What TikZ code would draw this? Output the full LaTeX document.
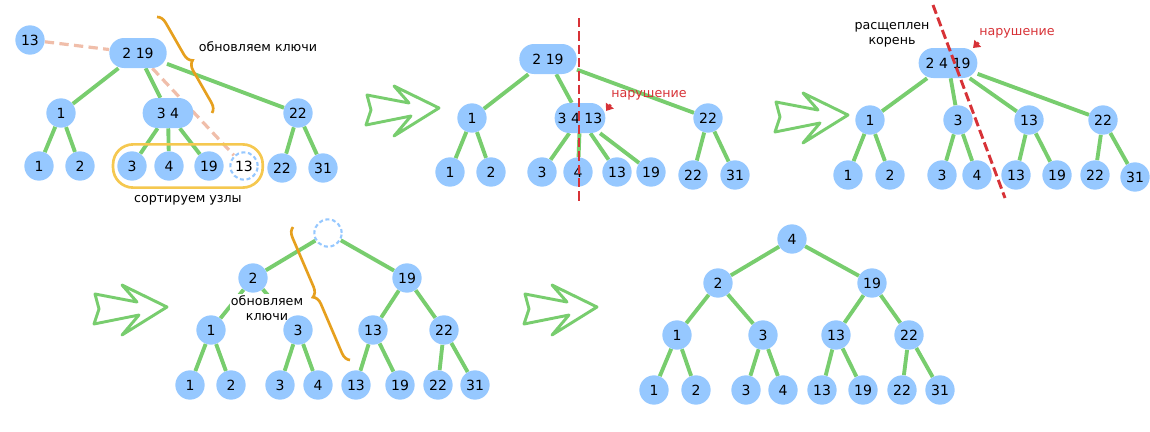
\documentclass[tikz,border=0pt]{standalone}
\usepackage{fontspec}
\setmainfont{DejaVu Sans}
\usetikzlibrary{positioning,fit,backgrounds,decorations.pathreplacing,arrows.meta}

\definecolor{keyblue}{RGB}{150,200,255}
\definecolor{edgegreen}{RGB}{120,205,110}
\definecolor{braceorange}{RGB}{230,160,30}
\definecolor{boxyellow}{RGB}{245,200,80}
\definecolor{warnred}{RGB}{215,50,55}
\definecolor{linkpink}{RGB}{240,190,170}

\tikzset{
	labelfont/.style={font=\fontsize{9.5}{11}\selectfont},
	keyfont/.style={font=\fontsize{10.5}{12}\selectfont},
	knot/.style={circle, fill=keyblue, minimum size=22pt, inner sep=0pt, keyfont},
	hole/.style={circle, draw=keyblue, line width=1.6pt, dash pattern=on 3pt off 2pt, minimum size=20.5pt, inner sep=0pt, keyfont},
	pair/.style={rectangle, rounded corners=11pt, fill=keyblue, minimum height=22.5pt, inner sep=1pt, keyfont},
	edge/.style={draw=edgegreen, line width=2.9pt},
	link/.style={draw=linkpink, line width=2.4pt, dash pattern=on 7pt off 4pt},
	cutline/.style={draw=warnred, line width=2.2pt, dash pattern=on 7pt off 3pt},
	warnarrow/.style={draw=warnred, line width=2pt, -{Triangle[length=5pt,width=7pt]}},
	bracket/.style={draw=braceorange, line width=2pt, decorate, decoration={brace, amplitude=7pt}},
	sortbox/.style={draw=boxyellow, line width=2pt, rounded corners=15pt, inner xsep=3pt, inner ysep=5pt},
	goarrow/.pic={
		\draw[edgegreen, line width=2.2pt, line join=round]
			(-72,-13) -- (-30,-5) -- (-45,-22) -- (0,0) -- (-45,28) -- (-28,8) -- (-73,17) -- (-68,2) -- cycle;
	}
}

\begin{document}
\begin{tikzpicture}[x=0.75pt, y=-0.75pt]
	\useasboundingbox (0,0) rectangle (1150,432);

	% step 1: insert 13, sort the keys
	\node[knot] (a13) at (30,40) {13};
	\node[pair, minimum width=43pt] (ar) at (138,53) {2 19};
	\node[knot] (a1) at (61,113) {1};
	\node[pair, minimum width=38pt] (a34) at (168,113) {3 4};
	\node[knot] (a22) at (298,113) {22};
	\node[knot] (a11) at (39,166) {1};
	\node[knot] (a12) at (80,166) {2};
	\node[knot] (a3) at (132,166) {3};
	\node[knot] (a4) at (169,166) {4};
	\node[knot] (a19) at (209,166) {19};
	\node[hole] (a13n) at (244,166) {13};
	\node[knot] (a22l) at (282,168) {22};
	\node[knot] (a31) at (323,168) {31};
	\node[sortbox, fit=(a3)(a13n)] (abox) {};
	\node[labelfont, below=1pt of abox] {сортируем узлы};
	\node[labelfont] at (258,47) {обновляем ключи};
	\begin{scope}[on background layer]
		\draw[edge] (ar) -- (a1) (ar) -- (a34) (ar) -- (a22);
		\draw[edge] (a1) -- (a11) (a1) -- (a12);
		\draw[edge] (a34) -- (a3) (a34) -- (a4) (a34) -- (a19);
		\draw[edge] (a22) -- (a22l) (a22) -- (a31);
		\draw[link] (a13) -- (ar);
		\draw[link] (ar) -- (a13n);
	\end{scope}
	\draw[bracket] (157,17) -- (212,113);

	% step 2: leaf overflows
	\pic at (439,108) {goarrow};
	\node[pair, minimum width=43pt] (br) at (548,59) {2 19};
	\node[knot] (b1) at (472,118) {1};
	\node[pair, minimum width=38pt] (b34) at (580,118) {3 4 13};
	\node[knot] (b22) at (708,118) {22};
	\node[knot] (b11) at (450,172) {1};
	\node[knot] (b12) at (491,172) {2};
	\node[knot] (b3) at (542,172) {3};
	\node[knot] (b4) at (578,172) {4};
	\node[knot] (b13) at (617,172) {13};
	\node[knot] (b19) at (651,172) {19};
	\node[knot] (b22l) at (693,175) {22};
	\node[knot] (b31) at (735,175) {31};
	\begin{scope}[on background layer]
		\draw[edge] (br) -- (b1) (br) -- (b34) (br) -- (b22);
		\draw[edge] (b1) -- (b11) (b1) -- (b12);
		\draw[edge] (b34) -- (b3) (b34) -- (b4) (b34) -- (b13) (b34) -- (b19);
		\draw[edge] (b22) -- (b22l) (b22) -- (b31);
	\end{scope}
	\coordinate (bcut1) at (579,18);
	\coordinate (bcut2) at (579,202);
	\draw[cutline] (bcut1) -- (bcut2);
	\node[labelfont, text=warnred] (bwarn) at (649,95) {нарушение};
	\coordinate (bhit) at (606,111);
	\draw[warnarrow] ([xshift=3pt]bwarn.south west) -- (bhit);

	% step 3: root split
	\pic at (848,115) {goarrow};
	\node[pair, minimum width=44pt] (cr) at (948,63) {2\,\,4\,\,19};
	\node[knot] (c1) at (870,120) {1};
	\node[knot] (c3) at (958,120) {3};
	\node[knot] (c13) at (1029,120) {13};
	\node[knot] (c22) at (1103,120) {22};
	\node[knot] (c11) at (848,175) {1};
	\node[knot] (c12) at (890,175) {2};
	\node[knot] (c3l) at (942,175) {3};
	\node[knot] (c4) at (977,175) {4};
	\node[knot] (c13l) at (1016,175) {13};
	\node[knot] (c19) at (1057,175) {19};
	\node[knot] (c22l) at (1095,175) {22};
	\node[knot] (c31) at (1135,177) {31};
	\begin{scope}[on background layer]
		\draw[edge] (cr) -- (c1) (cr) -- (c3) (cr) -- (c13) (cr) -- (c22);
		\draw[edge] (c1) -- (c11) (c1) -- (c12);
		\draw[edge] (c3) -- (c3l) (c3) -- (c4);
		\draw[edge] (c13) -- (c13l) (c13) -- (c19);
		\draw[edge] (c22) -- (c22l) (c22) -- (c31);
	\end{scope}
	\node[labelfont, align=center] at (892,35) {расщеплен\\корень};
	\coordinate (ccut1) at (933,5);
	\coordinate (ccut2) at (1005,198);
	\draw[cutline] (ccut1) -- (ccut2);
	\node[labelfont, text=warnred] (cwarn) at (1017,33) {нарушение};
	\coordinate (chit) at (973,48);
	\draw[warnarrow] ([xshift=3pt]cwarn.south west) -- (chit);

	% step 4: new root, update keys
	\pic at (167,307) {goarrow};
	\node[labelfont, align=center, fill=white, inner sep=1pt] at (267,308) {обновляем\\ключи};
	\node[hole] (d0) at (328,233) {};
	\node[knot] (d2) at (253,278) {2};
	\node[knot] (d19) at (407,278) {19};
	\node[knot] (d1) at (211,330) {1};
	\node[knot] (d3) at (298,330) {3};
	\node[knot] (d13) at (373,330) {13};
	\node[knot] (d22) at (444,330) {22};
	\node[knot] (d11) at (190,385) {1};
	\node[knot] (d12) at (231,385) {2};
	\node[knot] (d3l) at (280,385) {3};
	\node[knot] (d4) at (318,385) {4};
	\node[knot] (d13l) at (356,385) {13};
	\node[knot] (d19l) at (400,385) {19};
	\node[knot] (d22l) at (438,385) {22};
	\node[knot] (d31) at (475,385) {31};
	\begin{scope}[on background layer]
		\draw[edge] (d0) -- (d2) (d0) -- (d19);
		\draw[edge] (d2) -- (d1) (d2) -- (d3) (d19) -- (d13) (d19) -- (d22);
		\draw[edge] (d1) -- (d11) (d1) -- (d12) (d3) -- (d3l) (d3) -- (d4);
		\draw[edge] (d13) -- (d13l) (d13) -- (d19l) (d22) -- (d22l) (d22) -- (d31);
	\end{scope}
	\draw[bracket] (350,360) -- (293,227);

	% step 5: result
	\pic at (597,307) {goarrow};
	\node[knot] (e4) at (792,239) {4};
	\node[knot] (e2) at (718,283) {2};
	\node[knot] (e19) at (872,283) {19};
	\node[knot] (e1) at (677,335) {1};
	\node[knot] (e3) at (763,335) {3};
	\node[knot] (e13) at (836,335) {13};
	\node[knot] (e22) at (909,335) {22};
	\node[knot] (e11) at (654,390) {1};
	\node[knot] (e12) at (696,390) {2};
	\node[knot] (e3l) at (746,390) {3};
	\node[knot] (e4l) at (783,390) {4};
	\node[knot] (e13l) at (822,390) {13};
	\node[knot] (e19l) at (863,390) {19};
	\node[knot] (e22l) at (902,390) {22};
	\node[knot] (e31) at (940,390) {31};
	\begin{scope}[on background layer]
		\draw[edge] (e4) -- (e2) (e4) -- (e19);
		\draw[edge] (e2) -- (e1) (e2) -- (e3) (e19) -- (e13) (e19) -- (e22);
		\draw[edge] (e1) -- (e11) (e1) -- (e12) (e3) -- (e3l) (e3) -- (e4l);
		\draw[edge] (e13) -- (e13l) (e13) -- (e19l) (e22) -- (e22l) (e22) -- (e31);
	\end{scope}
\end{tikzpicture}
\end{document}
